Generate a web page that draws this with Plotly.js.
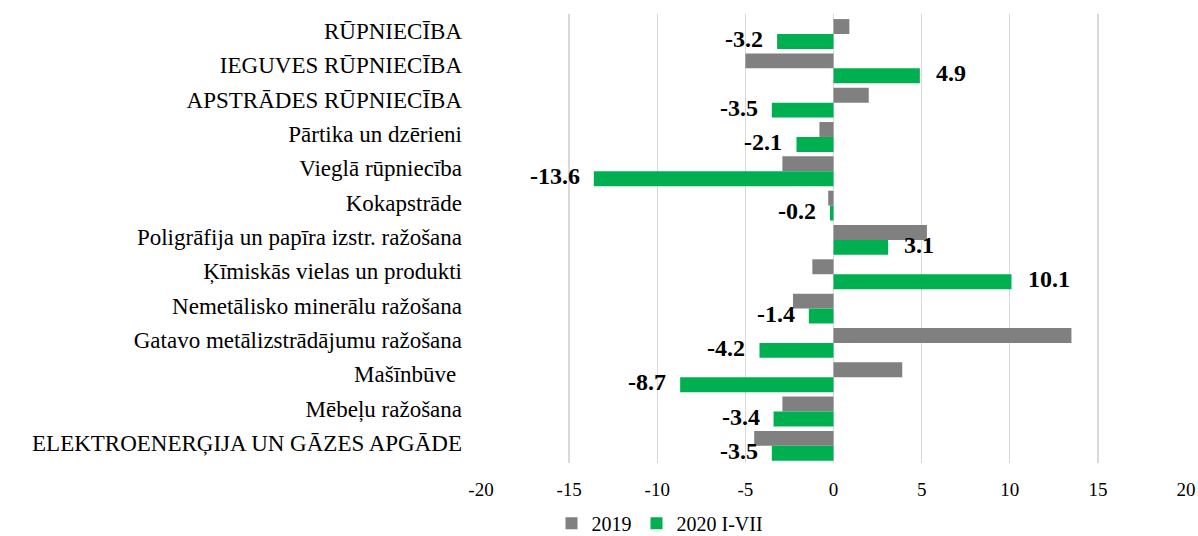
<!DOCTYPE html>
<html>
<head>
<meta charset="utf-8">
<script src="https://cdn.plot.ly/plotly-3.0.1.min.js"></script>
<style>html,body{margin:0;padding:0;background:#fff;}#chart{width:1198px;height:536px;}</style>
</head>
<body>
<div id="chart"></div>
<script>
const categories = [
  "RŪPNIECĪBA",
  "IEGUVES RŪPNIECĪBA",
  "APSTRĀDES RŪPNIECĪBA",
  "Pārtika un dzērieni",
  "Vieglā rūpniecība",
  "Kokapstrāde",
  "Poligrāfija un papīra izstr. ražošana",
  "Ķīmiskās vielas un produkti",
  "Nemetālisko minerālu ražošana",
  "Gatavo metālizstrādājumu ražošana",
  "Mašīnbūve ",
  "Mēbeļu ražošana",
  "ELEKTROENERĢIJA UN GĀZES APGĀDE"
];
const values2019 = [0.9, -5.0, 2.0, -0.8, -2.9, -0.3, 5.3, -1.2, -2.3, 13.5, 3.9, -2.9, -4.5];
const values2020 = [-3.2, 4.9, -3.5, -2.1, -13.6, -0.2, 3.1, 10.1, -1.4, -4.2, -8.7, -3.4, -3.5];
const tickValues = [-20, -15, -10, -5, 0, 5, 10, 15, 20];
const tickLabels = ["-20", "-15", "-10", "-5", "0", "5", "10", "15", "20"];
const seriesNames = ["2019", "2020 I-VII"];

const serif = "'Liberation Serif', 'Times New Roman', serif";

const traces = [
  {
    type: 'bar', orientation: 'h', name: seriesNames[0],
    y: categories, x: values2019,
    marker: {color: '#808080'}, hoverinfo: 'none'
  },
  {
    type: 'bar', orientation: 'h', name: seriesNames[1],
    y: categories, x: values2020,
    marker: {color: '#00b050'}, hoverinfo: 'none'
  }
];

const annotations = values2020.map((v, i) => ({
  x: v, y: categories[i], xref: 'x', yref: 'y',
  text: v.toFixed(1),
  showarrow: false,
  xanchor: v < 0 ? 'right' : 'left',
  xshift: v < 0 ? -12 : 14,
  yshift: -5,
  font: {family: serif, size: 24, color: '#000', weight: 'bold'}
}));

const layout = {
  width: 1198, height: 536,
  margin: {l: 481, r: 12, t: 14, b: 73, autoexpand: false},
  paper_bgcolor: '#fff', plot_bgcolor: '#fff',
  barmode: 'group', bargap: 0.13, bargroupgap: 0,
  showlegend: true,
  legend: {
    orientation: 'h', x: 0.10, xanchor: 'left', y: -0.134, yanchor: 'middle',
    font: {family: serif, size: 20, color: '#000'},
    itemwidth: 30, traceorder: 'normal'
  },
  xaxis: {
    range: [-20, 20], tickvals: tickValues, ticktext: tickLabels,
    showgrid: true, gridcolor: '#d9d9d9', gridwidth: 1.3,
    zeroline: false, showline: false, ticks: '', automargin: false,
    tickfont: {family: serif, size: 19, color: '#000'},
    ticklabelstandoff: 13
  },
  yaxis: {
    type: 'category', autorange: 'reversed', automargin: false,
    showgrid: false, zeroline: false, showline: false, ticks: '',
    tickfont: {family: serif, size: 23, color: '#000'},
    ticklabelstandoff: 18, ticklabelshift: 3
  },
  annotations: annotations,
  font: {family: serif}
};

Plotly.newPlot('chart', traces, layout, {displayModeBar: false, staticPlot: true});
</script>
</body>
</html>
